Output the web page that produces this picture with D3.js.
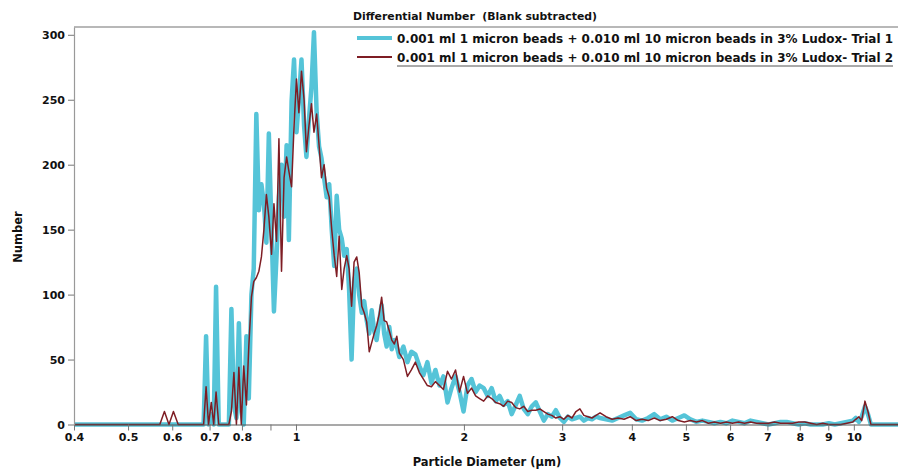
<!DOCTYPE html>
<html>
<head>
<meta charset="utf-8">
<script src="https://cdn.jsdelivr.net/npm/d3@7"></script>
<style>
  body { margin: 0; background: #fff; }
  svg { display: block; }
  text { font-family: "DejaVu Sans", Verdana, sans-serif; font-weight: bold; fill: #111; white-space: pre; }
</style>
</head>
<body>
<svg id="chart" width="898" height="470"></svg>
<script>
// Particle diameter bins (µm), log-spaced
const diameters = [
  0.4, 0.57, 0.581, 0.592, 0.603, 0.615,
  0.669, 0.676, 0.683, 0.690, 0.697, 0.705, 0.712, 0.719, 0.727, 0.734,
  0.742, 0.750, 0.758, 0.766, 0.774, 0.782, 0.790, 0.798, 0.806, 0.815,
  0.823, 0.832, 0.840, 0.849, 0.858, 0.867, 0.876, 0.885, 0.894, 0.904,
  0.913, 0.923, 0.932, 0.942, 0.952, 0.962, 0.971, 0.982, 0.992, 1.002,
  1.012, 1.023, 1.034, 1.044, 1.055, 1.066, 1.077, 1.089, 1.100, 1.111,
  1.123, 1.135, 1.147, 1.159, 1.171, 1.183, 1.195, 1.208, 1.220, 1.233,
  1.245, 1.258, 1.271, 1.285, 1.298, 1.312, 1.325, 1.339, 1.353, 1.367,
  1.381, 1.395, 1.410, 1.424, 1.439, 1.454, 1.470, 1.485, 1.501, 1.516, 1.532,
  1.558, 1.584, 1.610, 1.637, 1.664, 1.692, 1.720, 1.749, 1.778, 1.808,
  1.838, 1.869, 1.900, 1.932, 1.964, 1.997, 2.030, 2.064, 2.099, 2.134,
  2.170, 2.206, 2.243, 2.280, 2.318, 2.357, 2.396, 2.436, 2.477, 2.518,
  2.560, 2.603, 2.647, 2.691, 2.736, 2.782, 2.828, 2.875, 2.923, 2.972,
  3.022, 3.072, 3.124, 3.176, 3.228, 3.282, 3.337, 3.393, 3.450, 3.508,
  3.596, 3.687, 3.779, 3.874, 3.972, 4.072, 4.174, 4.279, 4.387, 4.498,
  4.611, 4.727, 4.846, 4.968, 5.093, 5.221, 5.352, 5.487, 5.625, 5.766,
  5.911, 6.060, 6.213, 6.369, 6.529, 6.694, 6.862, 7.035, 7.212, 7.391,
  7.577, 7.768, 7.963, 8.164, 8.369, 8.580, 8.796, 9.017, 9.244, 9.476, 9.715,
  9.959, 10.08, 10.21, 10.33, 10.47, 10.60, 10.73, 11, 12
];

// Trial 1 counts per bin
const trial1 = [
  0, 0, 0, 0, 0, 0,
  0, 0, 0, 68, 0, 8, 0, 106, 0, 0,
  0, 0, 0, 89, 15, 5, 78, 10, 0, 68,
  20, 100, 120, 239, 165, 185, 170, 140, 224, 150,
  87, 130, 175, 200, 160, 215, 142, 249, 281, 225,
  250, 281, 230, 206, 235, 260, 302, 240, 214, 205,
  190, 175, 185, 150, 122, 176, 150, 143, 130, 135,
  104, 50, 110, 120, 100, 86, 95, 80, 70, 88,
  72, 65, 80, 92, 70, 60, 75, 58, 65, 60, 52,
  60, 48, 56, 54, 45, 38, 48, 32, 42, 30,
  37, 17, 28, 37, 25, 10, 30, 35, 25, 30,
  28, 22, 28, 18, 22, 15, 18, 8, 15, 22,
  12, 8, 14, 17, 10, 3, 8, 6, 11, 5,
  2, 6, 4, 5, 6, 3, 5, 4, 6, 5,
  4, 3, 5, 7, 9, 4, 3, 5, 8, 4,
  6, 3, 5, 7, 4, 2, 3, 2, 1, 2,
  1, 3, 2, 1, 3, 2, 1, 0, 1, 2,
  2, 1, 0, 1, 0, 0, 0, 1, 0, 1, 2,
  3, 5, 2, 6, 14, 8, 0, 0, 0
];

// Trial 2 counts per bin
const trial2 = [
  0, 0, 10, 0, 10, 0,
  0, 0, 0, 29, 0, 17, 0, 25, 0, 0,
  0, 0, 0, 10, 40, 0, 44, 0, 45, 15,
  60, 98, 110, 113, 118, 129, 150, 177, 160, 131,
  170, 141, 220, 118, 190, 206, 195, 183, 230, 266,
  240, 272, 250, 210, 230, 247, 225, 239, 215, 190,
  200, 182, 175, 150, 130, 114, 145, 104, 120, 130,
  120, 91, 125, 129, 117, 91, 86, 79, 56, 63,
  70, 76, 85, 98, 80, 79, 72, 65, 62, 68, 55,
  50, 37, 42, 48, 40, 35, 30, 29, 33, 30,
  27, 41, 35, 42, 25, 37, 24, 28, 22, 20,
  18, 22, 20, 17, 16, 14, 18, 17, 13, 12,
  14, 10, 11, 11, 12, 10, 8, 7, 5, 6,
  4, 7, 5, 10, 12, 7, 6, 5, 7, 9,
  6, 4, 5, 4, 6, 3, 4, 3, 5, 3,
  4, 6, 3, 2, 3, 2, 3, 1, 2, 1,
  2, 1, 2, 1, 2, 1, 1, 1, 2, 1,
  1, 1, 2, 2, 1, 0, 1, 0, 0, 0, 1,
  2, 4, 6, 3, 18, 10, 0, 0, 0
];

const xTicks = [0.4, 0.5, 0.6, 0.7, 0.8, 0.9, 1, 2, 3, 4, 5, 6, 7, 8, 9, 10];
const xTickLabels = ["0.4", "0.5", "0.6", "0.7", "0.8", "", "1", "2", "3", "4", "5", "6", "7", "8", "9", "10"];
const yTicks = [0, 50, 100, 150, 200, 250, 300];
const seriesNames = [
  "0.001 ml 1 micron beads + 0.010 ml 10 micron beads in 3% Ludox- Trial 1",
  "0.001 ml 1 micron beads + 0.010 ml 10 micron beads in 3% Ludox- Trial 2"
];
const seriesColors = ["#55c4d8", "#7e1d24"];
const seriesWidths = [4.5, 1.5];

const svg = d3.select("#chart");
const plotLeft = 74, plotRight = 898, plotTop = 27, plotBottom = 424.5;

const x = d3.scaleLog().domain([0.4, 12]).range([plotLeft, plotRight]);
const y = d3.scaleLinear().domain([0, 306]).range([plotBottom, plotTop]);

// frame top edge
svg.append("line")
  .attr("x1", plotLeft).attr("x2", plotRight).attr("y1", plotTop).attr("y2", plotTop)
  .attr("stroke", "#a0a0a0").attr("stroke-width", 1.5);

// series lines
const line = d3.line()
  .x(d => x(d[0]))
  .y(d => y(d[1]));

[trial1, trial2].forEach((vals, i) => {
  const pts = diameters.map((d, j) => [d, vals[j]]);
  svg.append("path")
    .datum(pts)
    .attr("fill", "none")
    .attr("stroke", seriesColors[i])
    .attr("stroke-width", seriesWidths[i])
    .attr("stroke-linejoin", "round")
    .attr("d", line);
});

// axes
const xAxis = svg.append("g")
  .attr("transform", `translate(0,${plotBottom})`)
  .call(d3.axisBottom(x).tickValues(xTicks)
    .tickFormat((d, i) => xTickLabels[i]).tickSize(6).tickSizeOuter(0));
xAxis.select(".domain").attr("stroke", "#555").attr("stroke-width", 1.2);
xAxis.selectAll(".tick line").attr("stroke", "#777");
xAxis.selectAll("text").style("font-size", "11px").attr("fill", "#111");

const yAxis = svg.append("g")
  .attr("transform", `translate(${plotLeft},0)`)
  .call(d3.axisLeft(y).tickValues(yTicks).tickSize(6).tickSizeOuter(0));
yAxis.select(".domain").attr("stroke", "#999").attr("stroke-width", 1.2);
yAxis.selectAll(".tick line").attr("stroke", "#777");
yAxis.selectAll("text").style("font-size", "11px").attr("fill", "#111");

// titles
svg.append("text")
  .attr("x", 353).attr("y", 20)
  .attr("textLength", 244).attr("lengthAdjust", "spacingAndGlyphs")
  .style("font-size", "11px")
  .text("Differential Number  (Blank subtracted)");

svg.append("text")
  .attr("x", 487).attr("y", 466).attr("text-anchor", "middle")
  .style("font-size", "11.5px")
  .text("Particle Diameter (µm)");

svg.append("text")
  .attr("transform", "translate(22,237) rotate(-90)")
  .attr("text-anchor", "middle")
  .style("font-size", "11.5px")
  .text("Number");

// legend
const legend = svg.append("g");
seriesNames.forEach((name, i) => {
  const ly = 38 + i * 19;
  legend.append("line")
    .attr("x1", 357).attr("x2", 392).attr("y1", ly).attr("y2", ly)
    .attr("stroke", seriesColors[i]).attr("stroke-width", i === 0 ? 4 : 2);
  legend.append("text")
    .attr("x", 397).attr("y", ly + 4.5)
    .attr("textLength", 496).attr("lengthAdjust", "spacingAndGlyphs")
    .style("font-size", "11.5px")
    .text(name);
});
legend.append("line")
  .attr("x1", 397).attr("x2", 893).attr("y1", 66).attr("y2", 66)
  .attr("stroke", "#555").attr("stroke-width", 1);
</script>
</body>
</html>
